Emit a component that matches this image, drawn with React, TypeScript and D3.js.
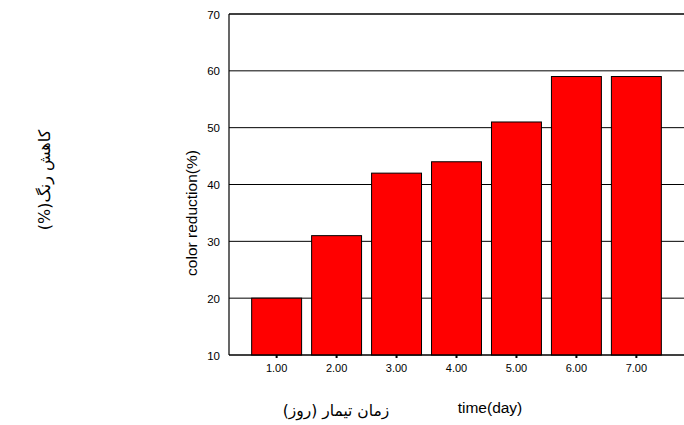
import React from "react";
import * as d3 from "d3";

const categories = ["1.00", "2.00", "3.00", "4.00", "5.00", "6.00", "7.00"];
const values = [20, 31, 42, 44, 51, 59, 59];
const yTicks = [10, 20, 30, 40, 50, 60, 70];

const W = 684;
const H = 425;
const left = 229;
const right = 684;
const top = 14;
const bottom = 355;

export default function App() {
  const x = d3
    .scaleBand<string>()
    .domain(categories)
    .range([left, right])
    .paddingInner(0.167)
    .paddingOuter(0.378);
  const y = d3.scaleLinear().domain([10, 70]).range([bottom, top]);
  const font = "'Liberation Sans', Arial, sans-serif";

  return (
    <svg
      width={W}
      height={H}
      style={{ position: "absolute", left: 0, top: 0, background: "#fff" }}
    >
      {yTicks.map((t) => (
        <line
          key={"g" + t}
          x1={left}
          x2={right}
          y1={y(t)}
          y2={y(t)}
          stroke="#000"
          strokeWidth={t === 70 ? 1.6 : 1}
        />
      ))}
      {categories.map((c, i) => (
        <rect
          key={c}
          x={x(c)!}
          y={y(values[i])}
          width={x.bandwidth()}
          height={bottom - y(values[i])}
          fill="#ff0000"
          stroke="#000"
          strokeWidth={1}
        />
      ))}
      <line x1={left} x2={left} y1={top} y2={bottom} stroke="#000" strokeWidth={1.2} />
      <line x1={left} x2={right} y1={bottom} y2={bottom} stroke="#000" strokeWidth={1.2} />
      {categories.map((c) => (
        <g key={"t" + c}>
          <line
            x1={x(c)! + x.bandwidth() / 2}
            x2={x(c)! + x.bandwidth() / 2}
            y1={bottom}
            y2={bottom + 3}
            stroke="#000"
            strokeWidth={2}
          />
          <text
            x={x(c)! + x.bandwidth() / 2}
            y={bottom + 17}
            textAnchor="middle"
            fontFamily={font}
            fontSize={11}
            fill="#000"
          >
            {c}
          </text>
        </g>
      ))}
      {yTicks.map((t) => (
        <text
          key={"yl" + t}
          x={left - 9}
          y={y(t) + 4.5}
          textAnchor="end"
          fontFamily={font}
          fontSize={11.5}
          fill="#000"
        >
          {t}
        </text>
      ))}
      <text
        transform={`translate(197, 213) rotate(-90)`}
        textAnchor="middle"
        fontFamily={font}
        fontSize={15.5}
        fill="#000"
      >
        color reduction(%)
      </text>
      <text
        x={490}
        y={413}
        textAnchor="middle"
        fontFamily={font}
        fontSize={15.5}
        fill="#000"
      >
        time(day)
      </text>
      <text
        x={336}
        y={416}
        textAnchor="middle"
        fontFamily="'DejaVu Sans', sans-serif"
        fontSize={15.5}
        fill="#000"
        direction="rtl"
      >
        زمان تیمار (روز)
      </text>
      <text
        transform={`translate(50, 180) rotate(-90)`}
        textAnchor="middle"
        fontFamily="'DejaVu Sans', sans-serif"
        fontSize={16}
        fill="#000"
        direction="rtl"
      >
        کاهش رنگ(%)
      </text>
    </svg>
  );
}
